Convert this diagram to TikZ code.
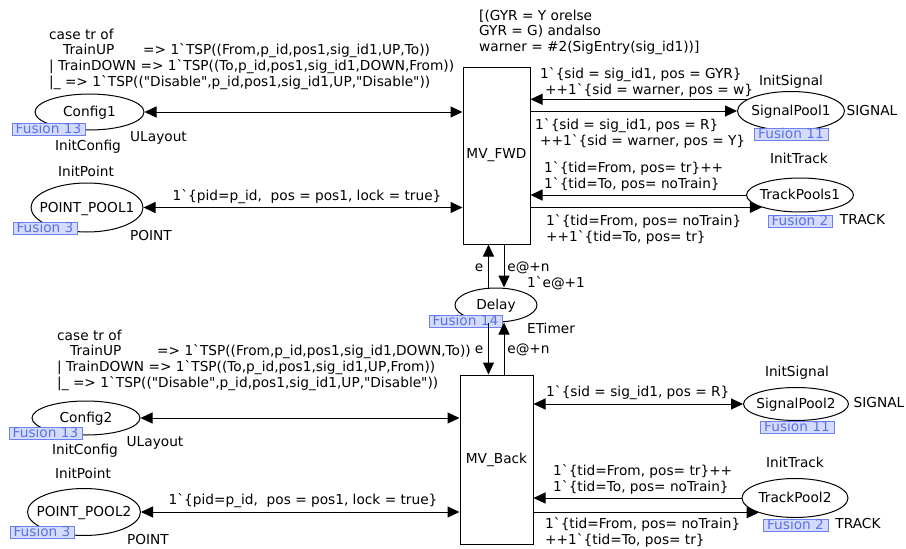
\documentclass[tikz,border=0pt]{standalone}
\usepackage{fontspec}
\setmainfont{DejaVu Sans}[Ligatures=TeXOff]
\usetikzlibrary{arrows.meta,shapes.geometric,calc}
\definecolor{fusb}{HTML}{6B82EE}
\definecolor{fusf}{HTML}{D4DBFC}
\definecolor{fust}{HTML}{5A72E6}
\begin{document}
\begin{tikzpicture}[x=1pt,y=-1pt,font=\fontsize{13.7}{15.7}\selectfont,
  place/.style={ellipse,draw,line width=1pt,inner sep=0pt,text height=10.5pt,text depth=0.6pt},
  trans/.style={rectangle,draw,line width=1pt,inner sep=0pt},
  fusion/.style={draw=fusb,fill=fusf,text=fust,inner sep=0pt,minimum height=12pt,text height=9.8pt,text depth=1.5pt,line width=0.8pt},
  lbl/.style={inner sep=0pt,text height=10.5pt,text depth=0.6pt},
  blk/.style={inner sep=0pt,align=left,anchor=north west},
  arc/.style={line width=1pt,-{Triangle[length=12pt,width=11pt]}},
  barc/.style={line width=1pt,{Triangle[length=12pt,width=11pt]}-{Triangle[length=12pt,width=11pt]}}]
\useasboundingbox (0,0) rectangle (906,549);

% transitions
\node[trans,minimum width=67pt,minimum height=177pt] (mvfwd) at (496.5,155.5) {MV\_FWD};
\node[trans,minimum width=73pt,minimum height=169pt] (mvback) at (496.5,459.5) {MV\_Back};

% places
\node[place,minimum width=109pt,minimum height=36pt] (config1) at (89.5,112) {\makebox[0pt]{Config1}};
\node[place,minimum width=112pt,minimum height=49pt] (pp1) at (87,207.5) {\makebox[0pt]{POINT\_POOL1}};
\node[place,minimum width=107pt,minimum height=39pt] (sp1) at (791,111) {\makebox[0pt]{SignalPool1}};
\node[place,minimum width=107pt,minimum height=34pt] (tp1) at (800,195) {\makebox[0pt]{TrackPools1}};
\node[place,minimum width=82pt,minimum height=34pt] (delay) at (496,305) {\makebox[0pt]{Delay}};
\node[place,minimum width=108pt,minimum height=34pt] (config2) at (86,418) {\makebox[0pt]{Config2}};
\node[place,minimum width=113pt,minimum height=47pt] (pp2) at (84,512) {\makebox[0pt]{POINT\_POOL2}};
\node[place,minimum width=105pt,minimum height=33pt] (sp2) at (796,404) {\makebox[0pt]{SignalPool2}};
\node[place,minimum width=106pt,minimum height=39pt] (tp2) at (795,498) {\makebox[0pt]{TrackPool2}};

% fusion tags
\node[fusion,minimum width=73pt] (f13a) at (48.5,129.5) {Fusion 13};
\node[fusion,minimum width=64pt] (f3a) at (45,228.5) {Fusion 3};
\node[fusion,minimum width=74pt] (f11a) at (791,134) {Fusion 11};
\node[fusion,minimum width=64pt] (f2a) at (800,221) {Fusion 2};
\node[fusion,minimum width=73pt] (f14) at (465.5,321) {Fusion 14};
\node[fusion,minimum width=73pt] (f13b) at (45.5,433) {Fusion 13};
\node[fusion,minimum width=64pt] (f3b) at (42,532.5) {Fusion 3};
\node[fusion,minimum width=74pt] (f11b) at (797,427.5) {Fusion 11};
\node[fusion,minimum width=65pt] (f2b) at (795.5,525) {Fusion 2};

% arcs upper
\draw[barc] (config1.east) -- (config1.east -| mvfwd.west);
\draw[barc] (pp1.east) -- (pp1.east -| mvfwd.west);
\draw[arc] (sp1.165) -- (sp1.165 -| mvfwd.east);
\draw[arc] (mvfwd.east |- sp1.west) -- (sp1.west);
\draw[arc] (tp1.west) -- (tp1.west -| mvfwd.east);
\draw[arc] (mvfwd.east |- tp1.198) -- (tp1.198);
% delay arcs
\draw[arc] ([xshift=-7.5pt]delay.north) -- ([xshift=-7.5pt]delay.north |- mvfwd.south);
\draw[arc] ([xshift=7.5pt]mvfwd.south) -- ([xshift=7.5pt]mvfwd.south |- delay.north);
\draw[arc] ([xshift=-7.5pt]delay.south) -- ([xshift=-7.5pt]delay.south |- mvback.north);
\draw[arc] ([xshift=7.5pt]mvback.north) -- ([xshift=7.5pt]mvback.north |- delay.south);
% arcs lower
\draw[barc] (config2.east) -- (config2.east -| mvback.west);
\draw[barc] (pp2.east) -- (pp2.east -| mvback.west);
\draw[barc] (sp2.west) -- (sp2.west -| mvback.east);
\draw[arc] (tp2.west) -- (tp2.west -| mvback.east);
\draw[arc] (mvback.east |- tp2.202) -- (tp2.202);

% inscriptions upper
\node[blk] (case1) at (49,28.5) {case tr of\\\hspace*{14pt}\makebox[80pt][l]{TrainUP}=> 1`TSP((From,p\_id,pos1,sig\_id1,UP,To))\\| TrainDOWN => 1`TSP((To,p\_id,pos1,sig\_id1,DOWN,From))\\|\_ => 1`TSP(("Disable",p\_id,pos1,sig\_id1,UP,"Disable"))};
\node[blk] (guard1) at (479,9.5) {[(GYR = Y orelse\\GYR = G) andalso\\warner = \#2(SigEntry(sig\_id1))]};
\node[blk] (s1in) at (540,67.5) {1`\{sid = sig\_id1, pos = GYR\}\\\hspace*{5pt}++1`\{sid = warner, pos = w\}};
\node[blk] (s1out) at (535,118.5) {1`\{sid = sig\_id1, pos = R\}\\\hspace*{5pt}++1`\{sid = warner, pos = Y\}};
\node[blk] (t1in) at (544,161.5) {1`\{tid=From, pos= tr\}++\\1`\{tid=To, pos= noTrain\}};
\node[blk] (t1out) at (546,214.5) {1`\{tid=From, pos= noTrain\}\\++1`\{tid=To, pos= tr\}};
\node[lbl] (p1ins) at (307,196) {1`\{pid=p\_id,\ \ pos = pos1, lock = true\}};
\node[lbl] (ic1) at (88,146) {InitConfig};
\node[lbl] (ul1) at (158.5,137) {ULayout};
\node[lbl] (ip1) at (86,172) {InitPoint};
\node[lbl] (pt1) at (151,236) {POINT};
\node[lbl] (is1) at (791,81) {InitSignal};
\node[lbl] (sg1) at (872,111) {SIGNAL};
\node[lbl] (it1) at (799,159) {InitTrack};
\node[lbl] (tr1) at (862.5,220) {TRACK};

% delay inscriptions
\node[lbl] (e1) at (479,267) {e};
\node[lbl] (en1) at (528.5,267) {e@+n};
\node[lbl] (ie) at (556,283) {1`e@+1};
\node[lbl] (et) at (551,329) {ETimer};
\node[lbl] (e2) at (479,349) {e};
\node[lbl] (en2) at (528.5,349) {e@+n};

% inscriptions lower
\node[blk] (case2) at (57,329.5) {case tr of\\\hspace*{13pt}\makebox[87pt][l]{TrainUP}=> 1`TSP((From,p\_id,pos1,sig\_id1,DOWN,To))\\| TrainDOWN => 1`TSP((To,p\_id,pos1,sig\_id1,UP,From))\\|\_ => 1`TSP(("Disable",p\_id,pos1,sig\_id1,UP,"Disable"))};
\node[lbl,anchor=west] (s2ins) at (546,392) {1`\{sid = sig\_id1, pos = R\}};
\node[blk] (t2in) at (553,464.5) {1`\{tid=From, pos= tr\}++\\1`\{tid=To, pos= noTrain\}};
\node[blk] (t2out) at (545,517.5) {1`\{tid=From, pos= noTrain\}\\++1`\{tid=To, pos= tr\}};
\node[lbl] (p2ins) at (303,500) {1`\{pid=p\_id,\ \ pos = pos1, lock = true\}};
\node[lbl] (ul2) at (155,442) {ULayout};
\node[lbl] (ic2) at (85,450) {InitConfig};
\node[lbl] (ip2) at (83,474) {InitPoint};
\node[lbl] (pt2) at (148,540) {POINT};
\node[lbl] (is2) at (797,372) {InitSignal};
\node[lbl] (sg2) at (879,403) {SIGNAL};
\node[lbl] (it2) at (795,463) {InitTrack};
\node[lbl] (tr2) at (858,524) {TRACK};
\end{tikzpicture}
\end{document}
